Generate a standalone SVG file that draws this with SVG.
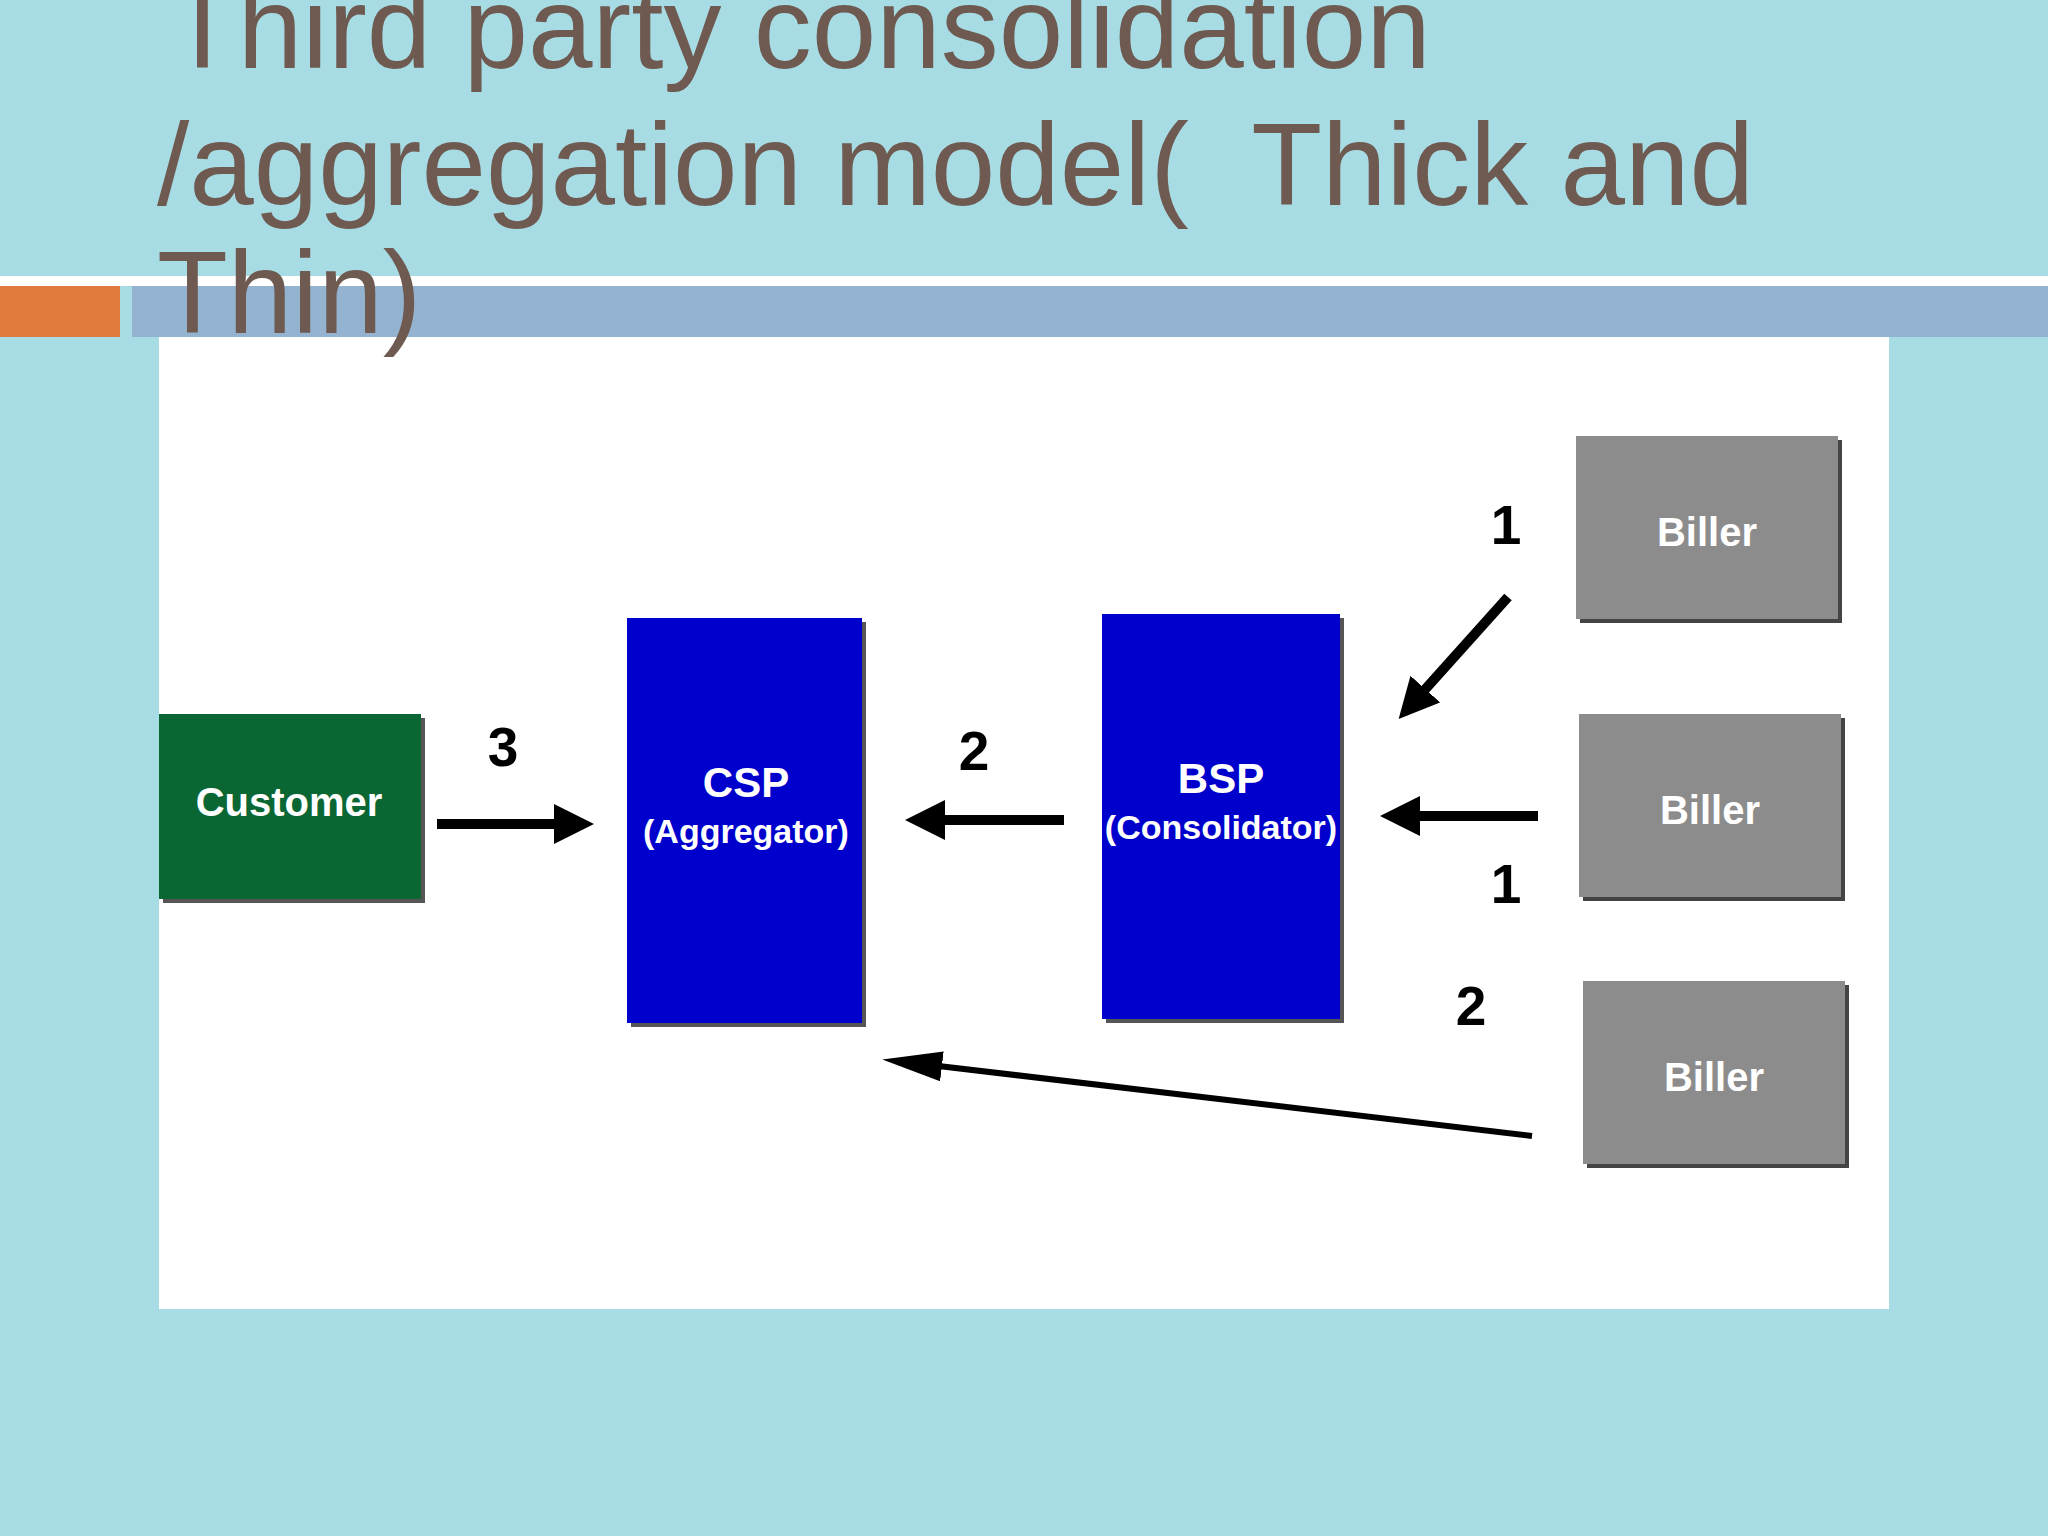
<svg xmlns="http://www.w3.org/2000/svg" width="2048" height="1536" viewBox="0 0 2048 1536">
<defs>
<marker id="ah" markerWidth="4" markerHeight="4" refX="2" refY="2" orient="auto" markerUnits="strokeWidth"><path d="M0,0 L4,2 L0,4 z" fill="#000"/></marker>
<marker id="ah2" markerWidth="10" markerHeight="5" refX="2" refY="2.5" orient="auto" markerUnits="strokeWidth"><path d="M0,0 L10,2.5 L0,5 z" fill="#000"/></marker>
</defs>
<style>
.t{font-family:"Liberation Sans",Arial,sans-serif;fill:#6e5a50;font-size:116px;white-space:pre}
.n{font-family:"Liberation Sans",Arial,sans-serif;font-weight:bold;fill:#fff;text-anchor:middle}
.l{font-family:"Liberation Sans",Arial,sans-serif;font-weight:bold;fill:#000;font-size:55px;text-anchor:middle}
.c{stroke:#000;stroke-width:10;fill:none}
</style>
<rect width="2048" height="1536" fill="#a8dce4"/>
<rect x="0" y="276" width="2048" height="10" fill="#fff"/>
<rect x="0" y="286" width="120" height="51" fill="#e07a3c"/>
<rect x="132" y="286" width="1916" height="51" fill="#93b3d0"/>
<rect x="159" y="337" width="1730" height="972" fill="#fff"/>
<text class="t" x="167" y="68">Third party consolidation</text>
<text class="t" x="157" y="205">/aggregation model(  Thick and</text>
<text class="t" x="157" y="333">Thin)</text>
<g id="customer"><rect x="163" y="718" width="262" height="185" fill="#555"/><rect x="159" y="714" width="262" height="185" fill="#0a6633"/><text class="n" x="289" y="816" font-size="40">Customer</text></g>
<g id="csp"><rect x="631" y="622" width="235" height="405" fill="#555"/><rect x="627" y="618" width="235" height="405" fill="#0000cc"/><text class="n" x="746" y="797" font-size="42">CSP</text><text class="n" x="746" y="843" font-size="34">(Aggregator)</text></g>
<g id="bsp"><rect x="1106" y="618" width="238" height="405" fill="#555"/><rect x="1102" y="614" width="238" height="405" fill="#0000cc"/><text class="n" x="1221" y="793" font-size="42">BSP</text><text class="n" x="1221" y="839" font-size="34">(Consolidator)</text></g>
<g id="biller1"><rect x="1580" y="440" width="262" height="183" fill="#444"/><rect x="1576" y="436" width="262" height="183" fill="#8c8c8c"/><text class="n" x="1707" y="546" font-size="40">Biller</text></g>
<g id="biller2"><rect x="1583" y="718" width="262" height="183" fill="#444"/><rect x="1579" y="714" width="262" height="183" fill="#8c8c8c"/><text class="n" x="1710" y="824" font-size="40">Biller</text></g>
<g id="biller3"><rect x="1587" y="985" width="262" height="183" fill="#444"/><rect x="1583" y="981" width="262" height="183" fill="#8c8c8c"/><text class="n" x="1714" y="1091" font-size="40">Biller</text></g>
<g id="connectors">
<line class="c" x1="437" y1="824" x2="574" y2="824" marker-end="url(#ah)"/>
<line class="c" x1="1064" y1="820" x2="925" y2="820" marker-end="url(#ah)"/>
<line class="c" x1="1538" y1="816" x2="1400" y2="816" marker-end="url(#ah)"/>
<line class="c" x1="1508" y1="597" x2="1412" y2="704" marker-end="url(#ah)"/>
<line x1="1532" y1="1136" x2="930" y2="1065" stroke="#000" stroke-width="6" marker-end="url(#ah2)"/>
</g>
<text class="l" x="503" y="766">3</text>
<text class="l" x="974" y="770">2</text>
<text class="l" x="1506" y="544">1</text>
<text class="l" x="1506" y="903">1</text>
<text class="l" x="1471" y="1025">2</text>
</svg>
